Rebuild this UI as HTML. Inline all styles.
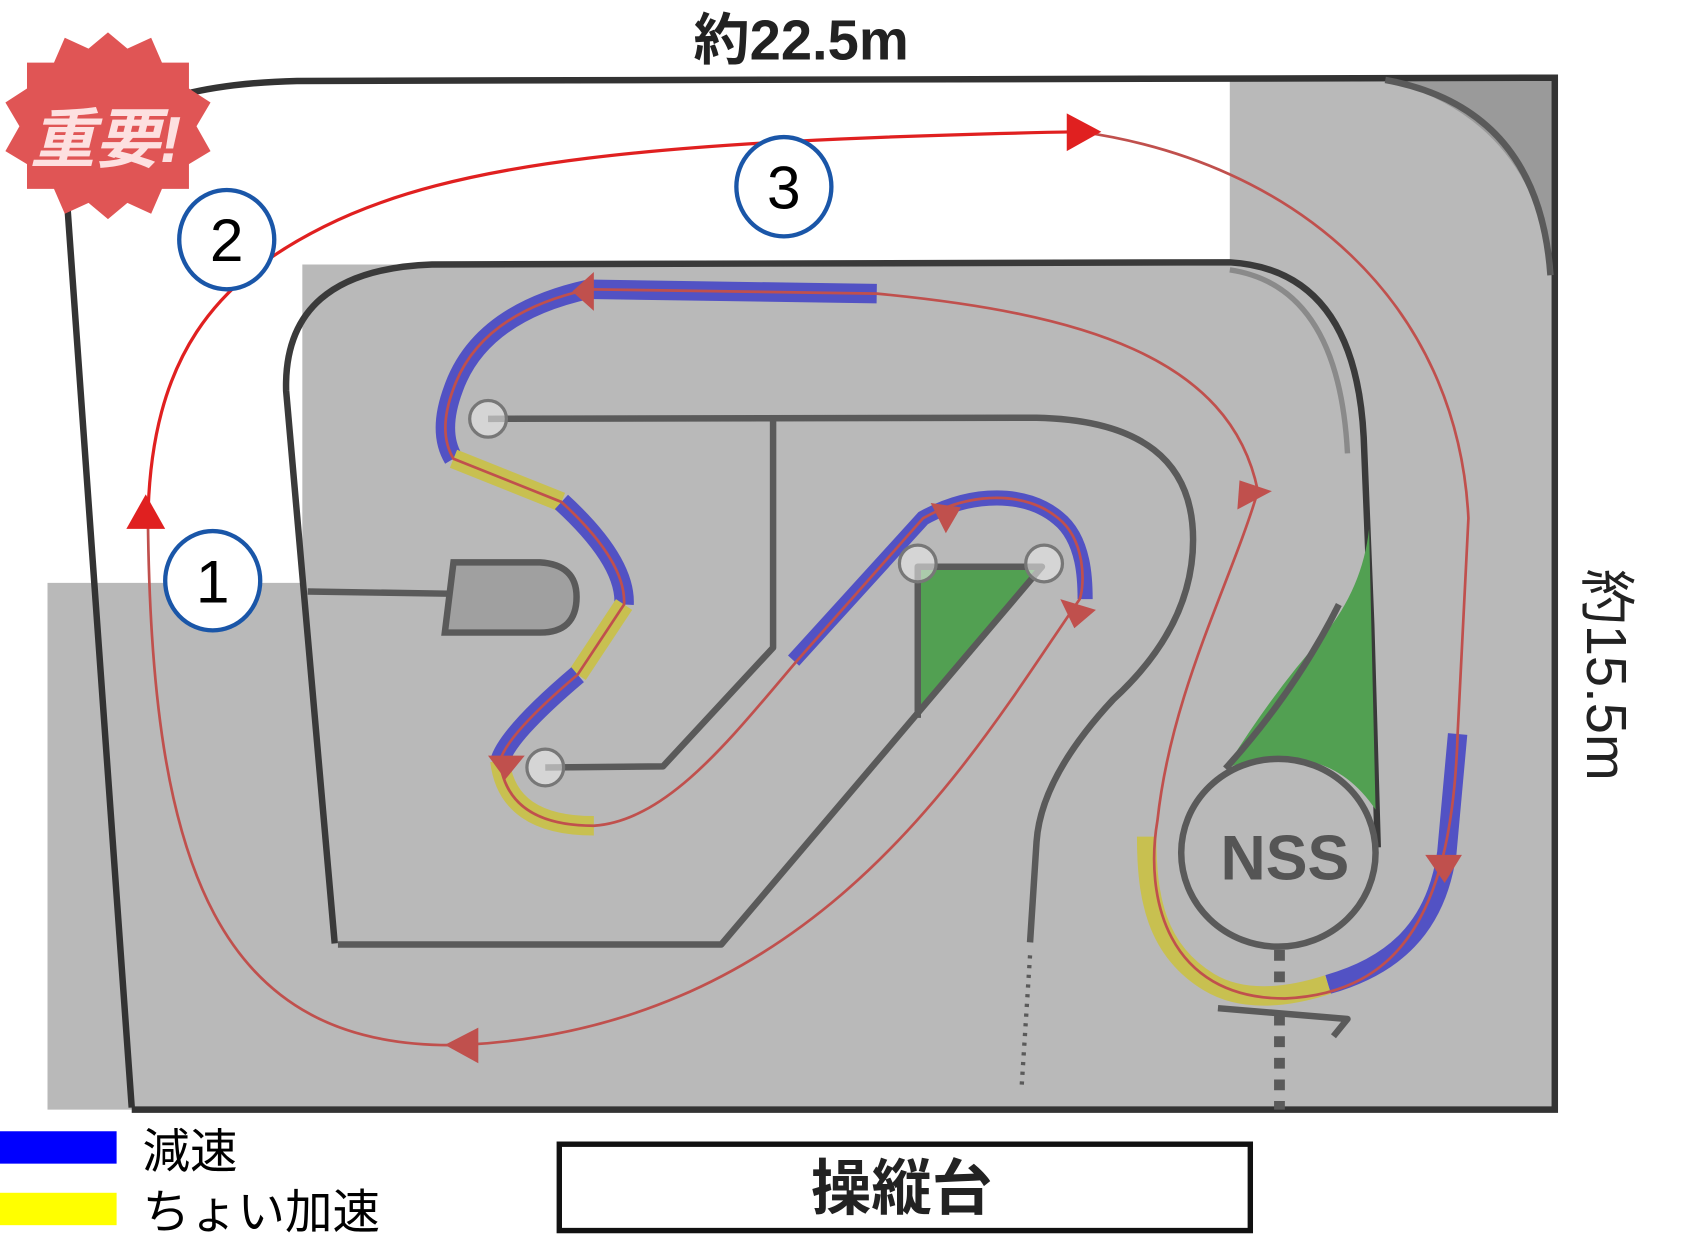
<!DOCTYPE html>
<html><head><meta charset="utf-8"><style>
html,body{margin:0;padding:0;background:#fff;}
svg{display:block;}
text{font-family:"Liberation Sans","Noto Sans CJK JP",sans-serif;}
</style></head><body>
<svg width="1693" height="1250" viewBox="0 0 1568 1158" preserveAspectRatio="none" xmlns="http://www.w3.org/2000/svg">
<rect width="1568" height="1158" fill="#fff"/>
<path d="M1139,72 L1440,72 L1440,1028 L44,1028 L44,540 L280,540 L280,245 L1139,245 Z" fill="#b9b9b9"/>
<path d="M1283,74 L1438,74 L1438,255 Q1420,110 1283,74 Z" fill="#9a9a9a"/>
<path d="M62,185 L62,90 Q64,78 140,76 Q80,100 62,185 Z" fill="#bbb"/>
<path d="M122,1026 L62,185 Q75,80 275,75 L1440,72 L1440,1028 L122,1028" fill="none" stroke="#333" stroke-width="6"/>
<path d="M1283,74 Q1425,100 1436,255" fill="none" stroke="#5a5a5a" stroke-width="6"/>
<path d="M310,874 L265,362 Q262,250 400,245 L1139,243 Q1255,250 1263,405 L1270,579 L1276,785" fill="none" stroke="#3a3a3a" stroke-width="6"/>
<path d="M1139,250 Q1240,265 1248,420" fill="none" stroke="#8a8a8a" stroke-width="5"/>
<path d="M850,525 L965,525 L850,665 Z" fill="#52a052"/>
<path d="M1268,490 L1274,750 Q1240,700 1184,703 Q1150,705 1135,712 Q1180,640 1225,590 Q1262,545 1268,490 Z" fill="#52a052"/>
<g fill="none" stroke="#5a5a5a" stroke-width="6" stroke-linejoin="round">
<path d="M452,388 L960,387 Q1105,390 1105,500 Q1105,580 1031,648 Q964,720 960,780 L954,873"/>
<path d="M716,388 L716,600 L614,710 L505,711"/>
<path d="M285,548 L415,550"/>
<path d="M313,875 L668,875 L965,525 L850,525 L850,665"/>
<path d="M1240,560 Q1200,640 1135,712"/>
<path d="M1128,934 L1248,944 L1235,960"/>
</g>
<path d="M420,521 L500,521 Q534,523 534,553 Q534,586 500,586 L412,586 Z" fill="#a0a0a0" stroke="#5a5a5a" stroke-width="6"/>
<path d="M954,885 L946,1010" stroke="#5a5a5a" stroke-width="4" stroke-dasharray="3,6"/>
<path d="M1185,880 L1185,1028" stroke="#5a5a5a" stroke-width="10" stroke-dasharray="10,10"/>
<ellipse cx="1184" cy="790" rx="90" ry="87" fill="#b9b9b9" stroke="#5a5a5a" stroke-width="6"/>
<text x="1190" y="815" font-size="58" font-weight="bold" fill="#555" text-anchor="middle">NSS</text>
<g fill="none">
<path stroke-width="18" d="M812,272 L545,268 Q445,290 420,360 Q405,400 420,425" stroke="#5252c4"/>
<path stroke-width="18" d="M420,425 L520,465" stroke="#c8c050"/>
<path stroke-width="18" d="M520,465 Q580,520 578,560" stroke="#5252c4"/>
<path stroke-width="18" d="M578,560 L535,625" stroke="#c8c050"/>
<path stroke-width="18" d="M535,625 Q470,680 463,705" stroke="#5252c4"/>
<path stroke-width="18" d="M463,705 Q470,765 550,765" stroke="#c8c050"/>
<path stroke-width="14" d="M735,612 L855,480 C900,455 950,455 980,480 C1005,500 1005,540 1005,555" stroke="#5252c4"/>
<path stroke-width="18" d="M1350,680 L1340,790 C1330,860 1290,895 1230,912" stroke="#5252c4"/>
<path stroke-width="18" d="M1230,912 C1190,925 1150,928 1120,910 C1070,880 1062,830 1062,775" stroke="#c8c050"/>
</g>
<path d="M1000,122 C1200,150 1350,280 1360,480 L1350,680 C1345,840 1300,920 1190,925 C1080,925 1060,830 1072,760 C1085,640 1140,540 1165,455 C1140,330 1000,290 812,272 L545,268 Q445,290 420,360 Q405,400 420,425 L520,465 Q580,520 578,560 L535,625 Q470,680 463,705 Q470,765 550,765 C620,760 680,680 740,610 L855,480 C900,455 950,455 980,480 C1005,500 1005,540 1000,555 C900,700 760,950 430,968 C200,975 140,800 137,480" fill="none" stroke="#c0504d" stroke-width="2.5"/>
<path d="M137,480 C140,330 200,260 300,210 C420,150 600,130 1000,122" fill="none" stroke="#e02020" stroke-width="3"/>
<g fill="#c0504d">
<polygon points="530,270 550,252 550,288"/>
<polygon points="468,722 452,700 486,700"/>
<polygon points="890,470 862,466 876,494"/>
<polygon points="995,582 982,555 1015,565"/>
<polygon points="1178,455 1148,445 1146,472"/>
<polygon points="1338,818 1320,792 1354,792"/>
<polygon points="412,968 443,952 443,985"/>
</g>
<g fill="#e02020">
<polygon points="135,458 117,490 153,490"/>
<polygon points="1020,122 988,105 988,140"/>
</g>
<g fill="#e8e8e8" fill-opacity="0.6" stroke="#777" stroke-width="3">
<circle cx="452" cy="388" r="17"/><circle cx="505" cy="711" r="17"/>
<circle cx="850" cy="522" r="17"/><circle cx="967" cy="522" r="17"/>
</g>
<g fill="#fff" stroke="#1a56a8" stroke-width="4">
<ellipse cx="197" cy="538" rx="44" ry="46"/>
<ellipse cx="210" cy="222" rx="44" ry="46"/>
<ellipse cx="726" cy="173" rx="44" ry="46"/>
</g>
<g font-size="56" text-anchor="middle" fill="#000">
<text x="197" y="558">1</text><text x="210" y="242">2</text><text x="726" y="193">3</text>
</g>
<polygon fill="#e05555" points="100,30 118,45 140,35 150,58 175,58 175,82 195,95 182,117 195,140 175,152 175,175 150,175 140,198 118,188 100,203 82,188 60,198 50,175 25,175 25,152 5,140 18,117 5,95 25,82 25,58 50,58 60,35 82,45"/>
<text x="98" y="150" font-size="60" font-weight="bold" fill="#fde0e0" text-anchor="middle" font-style="italic">重要!</text>
<text x="742" y="55" font-size="52" font-weight="bold" text-anchor="middle" fill="#222">約22.5m</text>
<text transform="translate(1470,625) rotate(90)" font-size="52" text-anchor="middle" fill="#222">約15.5m</text>
<rect x="0" y="1048" width="108" height="30" fill="#0000ff"/>
<rect x="0" y="1105" width="108" height="30" fill="#ffff00"/>
<text x="132" y="1082" font-size="44" fill="#000">減速</text>
<text x="132" y="1138" font-size="44" fill="#000">ちょい加速</text>
<rect x="518" y="1060" width="640" height="80" fill="#fff" stroke="#111" stroke-width="5"/>
<text x="835" y="1120" font-size="56" font-weight="bold" text-anchor="middle" fill="#222">操縦台</text>
</svg>
</body></html>
